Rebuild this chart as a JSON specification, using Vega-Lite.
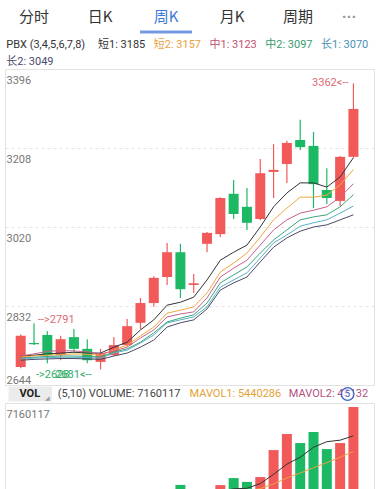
{
  "$schema": "https://vega.github.io/schema/vega-lite/v6.json",
  "padding": {"left": 4, "right": 5, "top": 0, "bottom": 0},
  "autosize": {"type": "pad"},
  "background": "white",
  "spacing": 0,
  "bounds": "flush",
  "config": {"font": "Roboto", "view": {"stroke": null}},
  "resolve": {"scale": {"x": "independent", "y": "independent", "color": "independent"}},
  "datasets": {
    "tabs": [
      {"tab": "分时", "sel": 0}, {"tab": "日K", "sel": 0}, {"tab": "周K", "sel": 1},
      {"tab": "月K", "sel": 0}, {"tab": "周期", "sel": 0}, {"tab": "···", "sel": 0}
    ],
    "legend": [
      {"row": "r1", "slot": 0, "s": "PBX", "label": "PBX (3,4,5,6,7,8)"},
      {"row": "r1", "slot": 1, "s": "短1", "label": "短1: 3185"},
      {"row": "r1", "slot": 2, "s": "短2", "label": "短2: 3157"},
      {"row": "r1", "slot": 3, "s": "中1", "label": "中1: 3123"},
      {"row": "r1", "slot": 4, "s": "中2", "label": "中2: 3097"},
      {"row": "r1", "slot": 5, "s": "长1", "label": "长1: 3070"},
      {"row": "r2", "slot": 0, "s": "长2", "label": "长2: 3049"}
    ],
    "candles": [
      {"i": 1, "open": 2687, "close": 2761, "high": 2764, "low": 2684, "volume": 1350000},
      {"i": 2, "open": 2744, "close": 2741, "high": 2791, "low": 2739, "volume": 1200000},
      {"i": 3, "open": 2763, "close": 2715, "high": 2772, "low": 2696, "volume": 1300000},
      {"i": 4, "open": 2715, "close": 2753, "high": 2761, "low": 2703, "volume": 1100000},
      {"i": 5, "open": 2758, "close": 2730, "high": 2777, "low": 2720, "volume": 1150000},
      {"i": 6, "open": 2730, "close": 2703, "high": 2753, "low": 2696, "volume": 1050000},
      {"i": 7, "open": 2699, "close": 2720, "high": 2730, "low": 2681, "volume": 1100000},
      {"i": 8, "open": 2715, "close": 2739, "high": 2758, "low": 2713, "volume": 1250000},
      {"i": 9, "open": 2739, "close": 2784, "high": 2801, "low": 2735, "volume": 1500000},
      {"i": 10, "open": 2792, "close": 2839, "high": 2851, "low": 2777, "volume": 1800000},
      {"i": 11, "open": 2839, "close": 2899, "high": 2903, "low": 2830, "volume": 1950000},
      {"i": 12, "open": 2901, "close": 2960, "high": 2982, "low": 2882, "volume": 2100000},
      {"i": 13, "open": 2960, "close": 2872, "high": 2980, "low": 2851, "volume": 2510000},
      {"i": 14, "open": 2882, "close": 2886, "high": 2908, "low": 2863, "volume": 1600000},
      {"i": 15, "open": 2980, "close": 3006, "high": 3008, "low": 2960, "volume": 1850000},
      {"i": 16, "open": 3003, "close": 3089, "high": 3091, "low": 2996, "volume": 2500000},
      {"i": 17, "open": 3099, "close": 3051, "high": 3132, "low": 3039, "volume": 2920000},
      {"i": 18, "open": 3068, "close": 3030, "high": 3113, "low": 3013, "volume": 2690000},
      {"i": 19, "open": 3039, "close": 3148, "high": 3182, "low": 3036, "volume": 2980000},
      {"i": 20, "open": 3151, "close": 3156, "high": 3217, "low": 3089, "volume": 4590000},
      {"i": 21, "open": 3170, "close": 3220, "high": 3225, "low": 3125, "volume": 5550000},
      {"i": 22, "open": 3227, "close": 3210, "high": 3275, "low": 3203, "volume": 5010000},
      {"i": 23, "open": 3213, "close": 3122, "high": 3246, "low": 3065, "volume": 5670000},
      {"i": 24, "open": 3108, "close": 3089, "high": 3160, "low": 3075, "volume": 4650000},
      {"i": 25, "open": 3082, "close": 3187, "high": 3189, "low": 3070, "volume": 5010000},
      {"i": 26, "open": 3187, "close": 3301, "high": 3362, "low": 3185, "volume": 7160117}
    ],
    "ma": [
      {"i": 1, "短1": 2713, "短2": 2711, "中1": 2713, "中2": 2708, "长1": 2706, "长2": 2703},
      {"i": 2, "短1": 2715, "短2": 2713, "中1": 2718, "中2": 2710, "长1": 2708, "长2": 2705},
      {"i": 3, "短1": 2718, "短2": 2715, "中1": 2724, "中2": 2712, "长1": 2709, "长2": 2706},
      {"i": 4, "短1": 2720, "短2": 2716, "中1": 2726, "中2": 2713, "长1": 2710, "长2": 2707},
      {"i": 5, "短1": 2722, "短2": 2718, "中1": 2725, "中2": 2713, "长1": 2710, "长2": 2707},
      {"i": 6, "短1": 2720, "短2": 2717, "中1": 2723, "中2": 2712, "长1": 2709, "长2": 2706},
      {"i": 7, "短1": 2720, "短2": 2715, "中1": 2718, "中2": 2711, "长1": 2708, "长2": 2705},
      {"i": 8, "短1": 2734, "短2": 2727, "中1": 2725, "中2": 2722, "长1": 2720, "长2": 2713},
      {"i": 9, "短1": 2746, "短2": 2739, "中1": 2734, "中2": 2730, "长1": 2727, "长2": 2720},
      {"i": 10, "短1": 2775, "短2": 2761, "中1": 2756, "中2": 2746, "长1": 2744, "长2": 2734},
      {"i": 11, "短1": 2799, "短2": 2782, "中1": 2775, "中2": 2768, "长1": 2763, "长2": 2751},
      {"i": 12, "短1": 2834, "短2": 2815, "中1": 2806, "中2": 2794, "长1": 2792, "长2": 2782},
      {"i": 13, "短1": 2841, "短2": 2822, "中1": 2813, "中2": 2803, "长1": 2799, "长2": 2792},
      {"i": 14, "短1": 2853, "短2": 2830, "中1": 2818, "中2": 2811, "长1": 2806, "长2": 2799},
      {"i": 15, "短1": 2894, "短2": 2863, "中1": 2851, "中2": 2839, "长1": 2830, "长2": 2825},
      {"i": 16, "短1": 2941, "短2": 2913, "中1": 2901, "中2": 2887, "长1": 2877, "长2": 2870},
      {"i": 17, "短1": 2960, "短2": 2934, "中1": 2922, "中2": 2906, "长1": 2894, "长2": 2887},
      {"i": 18, "短1": 2977, "短2": 2958, "中1": 2941, "中2": 2925, "长1": 2911, "长2": 2901},
      {"i": 19, "短1": 3020, "短2": 2996, "中1": 2977, "中2": 2958, "长1": 2946, "长2": 2937},
      {"i": 20, "短1": 3068, "短2": 3037, "中1": 3013, "中2": 2989, "长1": 2982, "长2": 2972},
      {"i": 21, "短1": 3101, "短2": 3065, "中1": 3037, "中2": 3013, "长1": 3001, "长2": 2994},
      {"i": 22, "短1": 3125, "短2": 3091, "中1": 3053, "中2": 3037, "长1": 3022, "长2": 3010},
      {"i": 23, "短1": 3125, "短2": 3091, "中1": 3060, "中2": 3044, "长1": 3030, "长2": 3020},
      {"i": 24, "短1": 3115, "短2": 3096, "中1": 3068, "中2": 3049, "长1": 3037, "长2": 3025},
      {"i": 25, "短1": 3139, "短2": 3120, "中1": 3091, "中2": 3068, "长1": 3053, "长2": 3037},
      {"i": 26, "短1": 3185, "短2": 3157, "中1": 3123, "中2": 3097, "长1": 3070, "长2": 3049}
    ],
    "vma": [
      {"i": 5, "s": "MAVOL1", "v": 1220000}, {"i": 6, "s": "MAVOL1", "v": 1160000},
      {"i": 7, "s": "MAVOL1", "v": 1140000}, {"i": 8, "s": "MAVOL1", "v": 1130000},
      {"i": 9, "s": "MAVOL1", "v": 1210000}, {"i": 10, "s": "MAVOL1", "v": 1340000},
      {"i": 11, "s": "MAVOL1", "v": 1520000}, {"i": 12, "s": "MAVOL1", "v": 1720000},
      {"i": 13, "s": "MAVOL1", "v": 1970000}, {"i": 14, "s": "MAVOL1", "v": 1990000},
      {"i": 15, "s": "MAVOL1", "v": 2000000}, {"i": 16, "s": "MAVOL1", "v": 2110000},
      {"i": 17, "s": "MAVOL1", "v": 2280000}, {"i": 18, "s": "MAVOL1", "v": 2310000},
      {"i": 19, "s": "MAVOL1", "v": 2590000}, {"i": 20, "s": "MAVOL1", "v": 3140000},
      {"i": 21, "s": "MAVOL1", "v": 3750000}, {"i": 22, "s": "MAVOL1", "v": 4160000},
      {"i": 23, "s": "MAVOL1", "v": 4760000}, {"i": 24, "s": "MAVOL1", "v": 5090000},
      {"i": 25, "s": "MAVOL1", "v": 5180000}, {"i": 26, "s": "MAVOL1", "v": 5440286},
      {"i": 10, "s": "MAVOL2", "v": 1280000}, {"i": 11, "s": "MAVOL2", "v": 1340000},
      {"i": 12, "s": "MAVOL2", "v": 1430000}, {"i": 13, "s": "MAVOL2", "v": 1550000},
      {"i": 14, "s": "MAVOL2", "v": 1600000}, {"i": 15, "s": "MAVOL2", "v": 1670000},
      {"i": 16, "s": "MAVOL2", "v": 1820000}, {"i": 17, "s": "MAVOL2", "v": 2000000},
      {"i": 18, "s": "MAVOL2", "v": 2140000}, {"i": 19, "s": "MAVOL2", "v": 2290000},
      {"i": 20, "s": "MAVOL2", "v": 2570000}, {"i": 21, "s": "MAVOL2", "v": 2930000},
      {"i": 22, "s": "MAVOL2", "v": 3220000}, {"i": 23, "s": "MAVOL2", "v": 3540000},
      {"i": 24, "s": "MAVOL2", "v": 3840000}, {"i": 25, "s": "MAVOL2", "v": 4160000},
      {"i": 26, "s": "MAVOL2", "v": 4513200}
    ],
    "marks": [
      {"i": 26, "p": 3362, "label": "3362<--", "kind": "hiR"},
      {"i": 2, "p": 2791, "label": "-->2791", "kind": "hiL"},
      {"i": 7, "p": 2681, "label": "2681<--", "kind": "loR"},
      {"i": 2, "p": 2681, "label": "->2628", "kind": "loL"}
    ]
  },
  "vconcat": [
    {
      "width": 369, "height": 37,
      "data": {"name": "tabs"},
      "layer": [
        {
          "transform": [{"filter": "datum.tab != '···'"}],
          "mark": {"type": "text", "font": "Noto Sans CJK SC", "fontSize": 15},
          "encoding": {
            "x": {"field": "tab", "type": "nominal", "scale": {"type": "point", "domain": ["分时", "日K", "周K", "月K", "周期", "···"], "padding": 0.2955, "align": 0.744}, "axis": null},
            "y": {"datum": "label", "type": "nominal", "scale": {"type": "point", "domain": ["label", "bar"], "range": [17, 32], "padding": 0}, "axis": null},
            "text": {"field": "tab"},
            "color": {"condition": {"test": "datum.sel == 1", "value": "#3c78d8"}, "value": "#333333"}
          }
        },
        {
          "transform": [{"filter": "datum.tab == '···'"}],
          "mark": {"type": "text", "font": "Roboto", "fontSize": 16, "fontWeight": "bold", "dx": -15, "color": "#999999"},
          "encoding": {
            "x": {"field": "tab", "type": "nominal"},
            "y": {"datum": "label", "type": "nominal"},
            "text": {"field": "tab"}
          }
        },
        {
          "transform": [{"filter": "datum.sel == 1"}],
          "mark": {"type": "tick", "orient": "horizontal", "size": 52, "thickness": 3, "color": "#3c6fd6"},
          "encoding": {
            "x": {"field": "tab", "type": "nominal"},
            "y": {"datum": "bar", "type": "nominal"}
          }
        }
      ]
    },
    {
      "width": 369, "height": 32,
      "data": {"name": "legend"},
      "encoding": {
        "x": {"field": "slot", "type": "quantitative", "scale": {"domain": [-0.668, 5.951]}, "axis": null},
        "y": {"field": "row", "type": "nominal", "scale": {"type": "point", "domain": ["r1", "r2"], "range": [8, 25], "padding": 0}, "axis": null},
        "text": {"field": "label"},
        "color": {"field": "s", "type": "nominal", "scale": {"domain": ["PBX", "短1", "短2", "中1", "中2", "长1", "长2"], "range": ["#333333", "#333333", "#e6a23c", "#c0506e", "#3a9a6e", "#4a90b8", "#4a4a6e"]}, "legend": null}
      },
      "layer": [
        {"transform": [{"filter": "datum.slot == 0"}], "mark": {"type": "text", "align": "left", "dx": -36, "fontSize": 11, "font": "Roboto, Noto Sans CJK SC"}},
        {"transform": [{"filter": "datum.slot > 0"}], "mark": {"type": "text", "align": "left", "fontSize": 11, "font": "Roboto, Noto Sans CJK SC"}}
      ]
    },
    {
      "width": 369, "height": 316,
      "view": {"stroke": "#e2e2e2"},
      "encoding": {"x": {"field": "i", "type": "quantitative", "scale": {"domain": [0.196, 27.17]}, "axis": null}},
      "layer": [
        {
          "data": {"name": "candles"},
          "mark": {"type": "rule", "strokeWidth": 1.2},
          "encoding": {
            "y": {"field": "low", "type": "quantitative", "scale": {"domain": [2644, 3396], "zero": false, "nice": false},
              "axis": {"orient": "left", "values": [2644, 2832, 3020, 3208, 3396], "format": "d", "ticks": false, "domain": false, "title": null,
                "labelAlign": "left", "labelPadding": -1, "labelFontSize": 11, "labelColor": "#777777", "labelFont": "Roboto",
                "labelFlush": false, "labelOverlap": false,
                "labelBaseline": {"condition": {"test": "datum.value == 2644", "value": "alphabetic"}, "value": "top"},
                "labelOffset": {"condition": {"test": "datum.value == 2644", "value": -2}, "value": 5},
                "grid": true, "gridColor": "#e6e6e6", "gridDash": [3, 3],
                "gridOpacity": {"condition": {"test": "datum.value == 2644 || datum.value == 3396", "value": 0}, "value": 1}}},
            "y2": {"field": "high"},
            "color": {"condition": {"test": "datum.close >= datum.open", "value": "#f25a5a"}, "value": "#1db864"}
          }
        },
        {
          "data": {"name": "candles"},
          "mark": {"type": "bar", "size": 10},
          "encoding": {
            "y": {"field": "open", "type": "quantitative"},
            "y2": {"field": "close"},
            "color": {"condition": {"test": "datum.close >= datum.open", "value": "#f25a5a"}, "value": "#1db864"}
          }
        },
        {
          "data": {"name": "ma"},
          "transform": [{"fold": ["短1", "短2", "中1", "中2", "长1", "长2"], "as": ["s", "v"]}],
          "mark": {"type": "line", "strokeWidth": 1},
          "encoding": {
            "y": {"field": "v", "type": "quantitative"},
            "color": {"field": "s", "type": "nominal", "scale": {"domain": ["短1", "短2", "中1", "中2", "长1", "长2"], "range": ["#333333", "#f0a840", "#c8608c", "#3aa67a", "#5ab0c8", "#4a4a66"]}, "legend": null}
          }
        },
        {
          "data": {"name": "marks"},
          "transform": [{"filter": "datum.kind == 'hiR'"}],
          "mark": {"type": "text", "align": "right", "baseline": "middle", "dx": -5, "fontSize": 11, "color": "#e06a78"},
          "encoding": {"y": {"field": "p", "type": "quantitative"}, "text": {"field": "label"}}
        },
        {
          "data": {"name": "marks"},
          "transform": [{"filter": "datum.kind == 'hiL'"}],
          "mark": {"type": "text", "align": "left", "baseline": "alphabetic", "dx": 4, "fontSize": 11, "color": "#e06a78"},
          "encoding": {"y": {"field": "p", "type": "quantitative"}, "text": {"field": "label"}}
        },
        {
          "data": {"name": "marks"},
          "transform": [{"filter": "datum.kind == 'loR'"}],
          "mark": {"type": "text", "align": "right", "baseline": "top", "dx": -9, "fontSize": 11, "color": "#2fae6a"},
          "encoding": {"y": {"field": "p", "type": "quantitative"}, "text": {"field": "label"}}
        },
        {
          "data": {"name": "marks"},
          "transform": [{"filter": "datum.kind == 'loL'"}],
          "mark": {"type": "text", "align": "left", "baseline": "top", "dx": 2, "fontSize": 11, "color": "#2fae6a"},
          "encoding": {"y": {"field": "p", "type": "quantitative"}, "text": {"field": "label"}}
        }
      ]
    },
    {
      "width": 369, "height": 18,
      "data": {"values": [{}]},
      "layer": [
        {
          "mark": {"type": "bar", "color": "#ebebeb"},
          "encoding": {
            "x": {"datum": 0.27, "type": "quantitative", "scale": {"domain": [0.196, 27.17]}, "axis": null},
            "x2": {"datum": 3.56},
            "y": {"datum": "box", "type": "nominal", "scale": {"type": "band", "paddingInner": 0, "paddingOuter": 0.1}, "axis": null}
          }
        },
        {"mark": {"type": "text", "text": "VOL", "fontWeight": "bold", "fontSize": 11, "color": "#222222"}, "encoding": {"x": {"datum": 1.88, "type": "quantitative"}}},
        {"mark": {"type": "text", "text": "◢", "fontSize": 6, "dy": 4, "color": "#999999"}, "encoding": {"x": {"datum": 3.25, "type": "quantitative"}}},
        {"mark": {"type": "text", "text": "(5,10) VOLUME: 7160117", "align": "left", "fontSize": 11, "color": "#444444"}, "encoding": {"x": {"datum": 4.0, "type": "quantitative"}}},
        {"mark": {"type": "text", "text": "MAVOL1: 5440286", "align": "left", "fontSize": 11, "color": "#e2a136"}, "encoding": {"x": {"datum": 14.0, "type": "quantitative"}}},
        {"mark": {"type": "text", "text": "MAVOL2: 45132", "align": "left", "fontSize": 11, "color": "#b4507e"}, "encoding": {"x": {"datum": 21.54, "type": "quantitative"}}},
        {"mark": {"type": "point", "shape": "circle", "size": 160, "filled": true, "fill": "#ffffff", "fillOpacity": 0.6, "stroke": "#3b62c4", "strokeWidth": 1.3}, "encoding": {"x": {"datum": 26.0, "type": "quantitative"}}},
        {"mark": {"type": "text", "text": "5", "fontSize": 9, "color": "#3b62c4"}, "encoding": {"x": {"datum": 26.0, "type": "quantitative"}}}
      ]
    },
    {
      "width": 369, "height": 86,
      "view": {"stroke": "#e2e2e2"},
      "encoding": {"x": {"field": "i", "type": "quantitative", "scale": {"domain": [0.196, 27.17]}, "axis": null}},
      "layer": [
        {
          "data": {"name": "candles"},
          "mark": {"type": "bar", "size": 10, "clip": true},
          "encoding": {
            "y": {"field": "volume", "type": "quantitative", "scale": {"domain": [2267384, 7398789], "zero": false, "nice": false},
              "axis": {"orient": "left", "values": [7160117], "format": "d", "ticks": false, "domain": false, "grid": false, "title": null,
                "labelAlign": "left", "labelPadding": -1, "labelBaseline": "top", "labelOffset": 1, "labelFontSize": 11,
                "labelColor": "#777777", "labelFont": "Roboto", "labelFlush": false}},
            "y2": {"datum": 0},
            "color": {"condition": {"test": "datum.close >= datum.open", "value": "#f25a5a"}, "value": "#1db864"}
          }
        },
        {
          "data": {"name": "vma"},
          "mark": {"type": "line", "strokeWidth": 1, "clip": true},
          "encoding": {
            "y": {"field": "v", "type": "quantitative"},
            "color": {"field": "s", "type": "nominal", "scale": {"domain": ["MAVOL1", "MAVOL2"], "range": ["#333333", "#e8a43c"]}, "legend": null}
          }
        }
      ]
    }
  ]
}
